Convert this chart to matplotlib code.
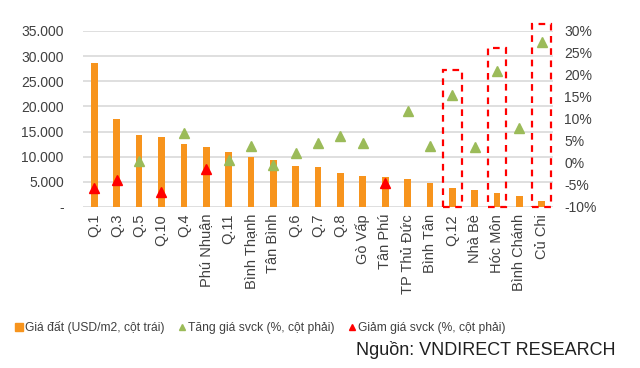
import numpy as np
import matplotlib
matplotlib.use("Agg")
import matplotlib.pyplot as plt
from matplotlib.patches import Rectangle
from matplotlib.lines import Line2D

plt.rcParams['font.family'] = ['Liberation Sans', 'DejaVu Sans']

districts = ["Q.1", "Q.3", "Q.5", "Q.10", "Q.4", "Phú Nhuận", "Q.11", "Bình Thạnh",
             "Tân Bình", "Q.6", "Q.7", "Q.8", "Gò Vấp", "Tân Phú", "TP Thủ Đức",
             "Bình Tân", "Q.12", "Nhà Bè", "Hóc Môn", "Bình Chánh", "Củ Chi"]
land_price = [28700, 17400, 14250, 14000, 12500, 11900, 10900, 10000,
              9350, 8150, 7900, 6700, 6200, 6000, 5600, 4800, 3700, 3300, 2700, 2250, 1200]
rise_pct = [np.nan, np.nan, 0.45, np.nan, 6.75, np.nan, 0.7, 3.9,
            -0.4, 2.35, 4.6, 6.1, 4.6, np.nan, 11.8, 3.9, 15.5, 3.6, 20.9, 8.0, 27.6]
fall_pct = [-5.7, -3.9, np.nan, -6.7, np.nan, -1.4, np.nan, np.nan,
            np.nan, np.nan, np.nan, np.nan, np.nan, -4.6, np.nan, np.nan,
            np.nan, np.nan, np.nan, np.nan, np.nan]
highlight = ["Q.12", "Hóc Môn", "Củ Chi"]
highlight_top = [21.1, 26.2, 31.5]

left_ticks = [0, 5000, 10000, 15000, 20000, 25000, 30000, 35000]
left_labels = ["-", "5.000", "10.000", "15.000", "20.000", "25.000", "30.000", "35.000"]
right_ticks = [-10, -5, 0, 5, 10, 15, 20, 25, 30]
right_labels = ["-10%", "-5%", "0%", "5%", "10%", "15%", "20%", "25%", "30%"]

ORANGE = "#F7941D"
GREEN = "#9BBB59"
RED = "#FF0000"
TXT = "#404040"

fig = plt.figure(figsize=(6.4, 3.68), dpi=100)
ax = fig.add_axes([0.13, 0.4375, 0.734, 0.4783])
x = np.arange(len(districts))

ax.bar(x, land_price, width=0.3, color=ORANGE, zorder=2)
ax.set_ylim(0, 35000)
ax.set_xlim(-0.5, len(districts) - 0.5)
ax.set_yticks(left_ticks)
ax.set_yticklabels(left_labels, fontsize=10, color=TXT)
ax.yaxis.grid(True, color="#D9D9D9", linewidth=1.2, zorder=0)
ax.set_axisbelow(True)
for s in ax.spines.values():
    s.set_visible(False)
ax.tick_params(axis='both', length=0)
ax.tick_params(axis='y', pad=14)
ax.tick_params(axis='x', pad=5)
ax.set_xticks(x)
ax.set_xticklabels(districts, rotation=90, fontsize=10.5, color=TXT)

ax2 = ax.twinx()
ax2.set_ylim(-10, 30)
ax2.set_yticks(right_ticks)
ax2.set_yticklabels(right_labels, fontsize=10, color=TXT)
for s in ax2.spines.values():
    s.set_visible(False)
ax2.tick_params(axis='y', length=0, pad=8)
ax2.plot(x, rise_pct, linestyle='none', marker='^', markersize=7.5, color=GREEN, zorder=3)
ax2.plot(x, fall_pct, linestyle='none', marker='^', markersize=7.5, color=RED, zorder=3)

for name, top in zip(highlight, highlight_top):
    i = districts.index(name)
    ax2.add_patch(Rectangle((i - 0.42, -10), 0.84, top + 10, fill=False,
                            edgecolor=RED, linewidth=1.6, linestyle=(0, (3, 2.5)),
                            clip_on=False, zorder=4))

handles = [
    Line2D([], [], linestyle='none', marker='s', markersize=6, color=ORANGE),
    Line2D([], [], linestyle='none', marker='^', markersize=4, color=GREEN),
    Line2D([], [], linestyle='none', marker='^', markersize=4, color=RED),
]
labels = ["Giá đất (USD/m2, cột trái)", "Tăng giá svck (%, cột phải)", "Giảm giá svck (%, cột phải)"]
fig.legend(handles, labels, loc='center left', bbox_to_anchor=(0.008, 0.11), ncol=3,
           frameon=False, fontsize=8.7, handlelength=0.5, handletextpad=0.25,
           columnspacing=1.2, labelcolor=TXT)

fig.text(0.962, 0.048, "Nguồn: VNDIRECT RESEARCH", ha='right', va='center',
         fontsize=13, color="#202020")

fig.savefig("out.png", dpi=100)
